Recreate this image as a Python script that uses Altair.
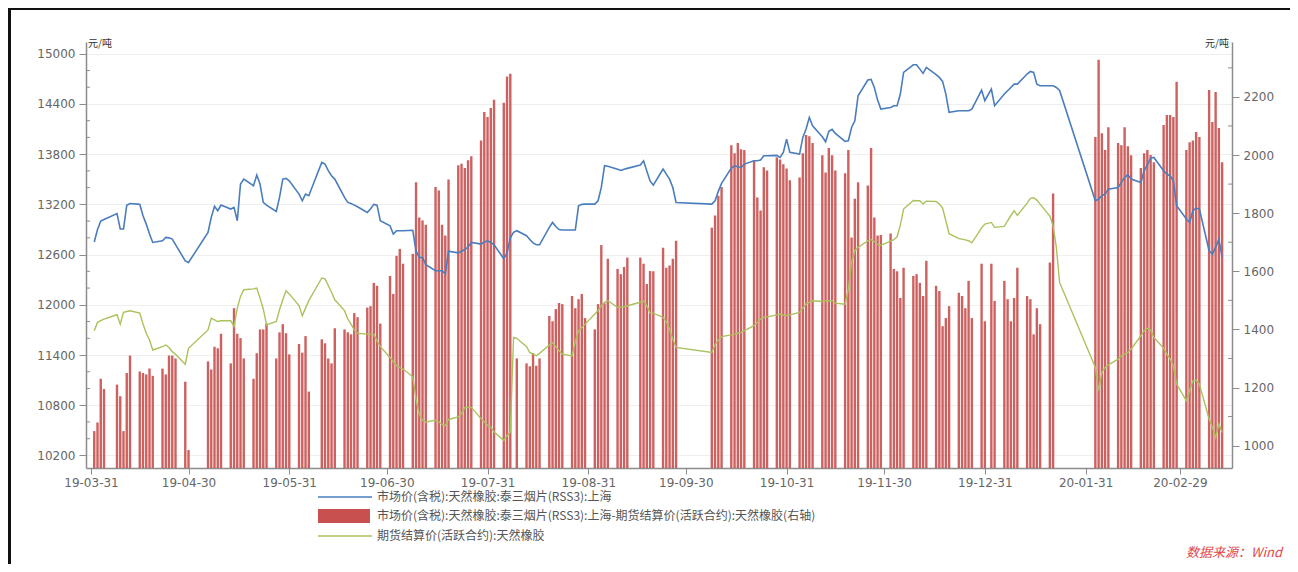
import altair as alt
import pandas as pd

# ---------------- data ----------------
HOLIDAYS = [
    "2019-04-05", "2019-05-01", "2019-05-02", "2019-05-03", "2019-06-07",
    "2019-09-13", "2019-09-30", "2019-10-01", "2019-10-02", "2019-10-03",
    "2019-10-04", "2019-10-07", "2020-01-01", "2020-01-24", "2020-01-27",
    "2020-01-28", "2020-01-29", "2020-01-30", "2020-01-31",
]

rss3_2019_04 = [12750, 12900, 13000, 13020, 13090, 12905, 12905, 13190, 13210, 13200, 13064,
                12964, 12845, 12745, 12765, 12805, 12800, 12785, 12720, 12525, 12505]
rss3_2019_05 = [12865, 13045, 13176, 13124, 13191, 13144, 13164, 13004, 13443, 13502,
                13423, 13550, 13443, 13223, 13191, 13116, 13283, 13502, 13510, 13482]
rss3_2019_06 = [13323, 13243, 13323, 13303, 13701, 13681, 13602, 13542, 13502, 13283,
                13223, 13210, 13191, 13171, 13104, 13144, 13200, 13190, 13004]
rss3_2019_07 = [12944, 12845, 12885, 12885, 12885, 12890, 12640, 12566, 12566, 12480, 12407, 12407,
                12407, 12370, 12640, 12620, 12640, 12660, 12690, 12745, 12725, 12750, 12765]
rss3_2019_08 = [12745, 12717, 12550, 12620, 12800, 12865, 12885, 12825, 12780, 12740, 12717,
                12717, 12925, 12984, 12935, 12900, 12893, 12893, 12893, 13183, 13200, 13203]
rss3_2019_09 = [13203, 13243, 13402, 13661, 13655, 13620, 13605, 13620, 13630, 13670,
                13720, 13600, 13480, 13430, 13622, 13562, 13502, 13402, 13223]
rss3_2019_10 = [13203, 13243, 13355, 13450, 13634, 13661, 13650, 13641, 13681,
                13721, 13721, 13729, 13781, 13781, 13785, 13761, 13821, 13980]
rss3_2019_11 = [13821, 13801, 14000, 14100, 14239, 14139, 14008, 13948, 14072, 14096, 14048,
                13952, 13960, 14119, 14199, 14498, 14685, 14693, 14597, 14446, 14339]
rss3_2019_12 = [14358, 14378, 14378, 14518, 14777, 14868, 14868, 14816, 14765, 14836, 14749,
                14717, 14669, 14518, 14299, 14319, 14319, 14319, 14319, 14338, 14566, 14438]
rss3_2020_01 = [14577, 14378, 14518, 14558, 14597, 14637, 14637, 14757,
                14789, 14777, 14637, 14617, 14617, 14617, 14597, 14560]
rss3_2020_02 = [13243, 13263, 13303, 13323, 13382, 13402, 13462, 13522, 13554, 13502,
                13462, 13602, 13673, 13753, 13761, 13602, 13562, 13542, 13482, 13183]
rss3_2020_03 = [13024, 12984, 13124, 13155, 13144, 12646, 12606, 12685, 12785, 12566]

fut_2019_04 = [11690, 11790, 11810, 11829, 11881, 11769, 11909, 11920, 11929, 11900, 11770,
               11660, 11580, 11460, 11500, 11520, 11490, 11440, 11410, 11290, 11480]
fut_2019_05 = [11700, 11840, 11820, 11800, 11809, 11809, 11740, 11960, 12100, 12180,
               12190, 12200, 12080, 11950, 11760, 11800, 11940, 12060, 12168, 12130]
fut_2019_06 = [11990, 11870, 11960, 12050, 12320, 12310, 12230, 12150, 12060, 11930,
               11830, 11770, 11700, 11660, 11650, 11650, 11650, 11570, 11500]
fut_2019_07 = [11371, 11320, 11272, 11250, 11232, 11140, 10870, 10690, 10620, 10600, 10620, 10600,
               10570, 10555, 10630, 10660, 10700, 10770, 10774, 10774, 10640, 10600, 10560]
fut_2019_08 = [10540, 10480, 10380, 10435, 10480, 11610, 11600, 11500, 11430, 11411, 11391,
               11420, 11520, 11545, 11500, 11450, 11411, 11390, 11560, 11690, 11730, 11769]
fut_2019_09 = [11889, 11929, 11990, 12030, 12048, 11969, 11969, 11980, 11989, 12030,
               12048, 11990, 11900, 11900, 11849, 11797, 11710, 11590, 11491]
fut_2019_10 = [11431, 11523, 11580, 11620, 11640, 11650, 11660, 11670, 11690,
               11750, 11790, 11830, 11849, 11855, 11880, 11889, 11875, 11869]
fut_2019_11 = [11880, 11909, 11960, 12008, 12030, 12048, 12040, 12048, 12048, 12048, 12020,
               12008, 12188, 12506, 12646, 12686, 12765, 12780, 12757, 12720, 12710]
fut_2019_12 = [12761, 12777, 12813, 12952, 13144, 13247, 13243, 13243, 13203, 13239, 13235,
               13203, 13155, 13004, 12850, 12790, 12785, 12775, 12765, 12740, 12920, 12964]
fut_2020_01 = [12984, 12925, 12937, 13004, 13064, 13124, 13068, 13215,
               13271, 13279, 13251, 13203, 13060, 12944, 12686, 12267]
fut_2020_02 = [11252, 10973, 11192, 11252, 11283, 11351, 11391, 11411, 11431, 11471,
               11630, 11690, 11720, 11700, 11610, 11483, 11411, 11351, 11272, 11053]
fut_2020_03 = [10853, 10973, 11092, 11100, 11053, 10634, 10535, 10415, 10575, 10475]

spread_2019_04 = [1050, 1080, 1230, 1195, 1210, 1170, 1050, 1250, 1310, 1255, 1250,
                  1245, 1265, 1240, 1265, 1245, 1310, 1310, 1300, 1220, 985]
spread_2019_05 = [1290, 1262, 1340, 1335, 1385, 1283, 1473, 1385, 1370, 1300,
                  1230, 1318, 1400, 1400, 1420, 1300, 1390, 1418, 1387, 1314]
spread_2019_06 = [1350, 1320, 1377, 1186, 1366, 1352, 1300, 1283, 1404, 1400,
                  1390, 1383, 1456, 1442, 1475, 1480, 1560, 1550, 1420]
spread_2019_07 = [1584, 1522, 1653, 1677, 1626, 1660, 1906, 1785, 1775, 1760, 1890, 1878,
                  1760, 1723, 1916, 1965, 1970, 1955, 1982, 1996, 2050, 2148, 2131]
spread_2019_08 = [2162, 2190, 2180, 2270, 2280, None, 1300, 1283, 1273, 1318, 1275,
                  1300, 1446, 1428, 1470, 1491, 1487, 1515, 1473, 1504, 1522, 1439]
spread_2019_09 = [1400, 1487, 1690, 1490, 1643, 1608, 1590, 1615, 1647, 1647,
                  1626, 1556, 1601, 1600, 1681, 1612, 1620, 1643, 1705]
spread_2019_10 = [1750, 1792, 1860, 1890, 2034, 2006, 2041, 2020, 2017,
                  1982, 1854, 1809, 1958, 1947, 1992, 1985, 1968, 1954]
spread_2019_11 = [1913, 1923, 2006, 2069, 2065, 2041, 1999, 1940, 2024, 1999, 1947,
                  1937, 2017, 1716, 1850, 1906, 1895, 2024, 1785, 1723, 1725]
spread_2019_12 = [1730, 1608, 1600, 1508, 1612, 1584, 1590, 1560, 1515, 1636, 1550,
                  1532, 1411, 1439, 1480, 1526, 1515, 1473, 1567, 1439, 1626, 1428]
spread_2020_01 = [1626, 1498, 1567, 1504, 1428, 1508, 1612, 1515,
                  1504, 1383, 1473, 1418, 1630, 1868, None, None]
spread_2020_02 = [2062, 2328, 2075, 2017, 2096, 2041, 2034, 2096, 2030, 1999,
                  1955, 2006, 2017, 2000, 1975, 2103, 2138, 2138, 2131, 2252]
spread_2020_03 = [2017, 2044, 2050, 2079, 2062, 2224, 2114, 2217, 2093, 1975]

LEFT_TICKS = [10200, 10800, 11400, 12000, 12600, 13200, 13800, 14400, 15000]
LEFT_MINOR = [10400, 10600, 11000, 11200, 11600, 11800, 12200, 12400, 12800,
              13000, 13400, 13600, 14000, 14200, 14600, 14800]
RIGHT_TICKS = [1000, 1200, 1400, 1600, 1800, 2000, 2200]
RIGHT_MINOR = [1100, 1300, 1500, 1700, 1900, 2100, 2300]
MONTH_ENDS = [(2019, 3, 31), (2019, 4, 30), (2019, 5, 31), (2019, 6, 30), (2019, 7, 31),
              (2019, 8, 31), (2019, 9, 30), (2019, 10, 31), (2019, 11, 30), (2019, 12, 31),
              (2020, 1, 31), (2020, 2, 29)]

NAME_RSS3 = "市场价(含税):天然橡胶:泰三烟片(RSS3):上海"
NAME_SPREAD = "市场价(含税):天然橡胶:泰三烟片(RSS3):上海-期货结算价(活跃合约):天然橡胶(右轴)"
NAME_FUT = "期货结算价(活跃合约):天然橡胶"

# ---------------- table ----------------
rss3 = (rss3_2019_04 + rss3_2019_05 + rss3_2019_06 + rss3_2019_07 + rss3_2019_08 + rss3_2019_09
        + rss3_2019_10 + rss3_2019_11 + rss3_2019_12 + rss3_2020_01 + rss3_2020_02 + rss3_2020_03)
fut = (fut_2019_04 + fut_2019_05 + fut_2019_06 + fut_2019_07 + fut_2019_08 + fut_2019_09
       + fut_2019_10 + fut_2019_11 + fut_2019_12 + fut_2020_01 + fut_2020_02 + fut_2020_03)
spread = (spread_2019_04 + spread_2019_05 + spread_2019_06 + spread_2019_07 + spread_2019_08
          + spread_2019_09 + spread_2019_10 + spread_2019_11 + spread_2019_12 + spread_2020_01
          + spread_2020_02 + spread_2020_03)

dates = [d.strftime("%Y-%m-%dT00:00:00") for d in pd.bdate_range("2019-04-01", "2020-03-13")
         if d.strftime("%Y-%m-%d") not in HOLIDAYS]
assert len(dates) == len(rss3) == len(fut) == len(spread), (len(dates), len(rss3), len(fut), len(spread))

df = pd.DataFrame({"date": dates, "rss3": rss3, "fut": fut, "spread": spread})

# ---------------- style ----------------
W, H = 1146, 426
FONT = "DejaVu Sans"
CJK = "Noto Sans CJK SC"
AX_COL = "#8c8c8c"
LAB_COL = "#666666"
BLUE = "#4a7dbd"
GREEN = "#a9c25c"
RED = "#c8504f"
L_DOM = [10050, 15140]
R_DOM = [923, 2389]

x_scale = alt.Scale(domain=[alt.DateTime(year=2019, month=3, date=31),
                            alt.DateTime(year=2020, month=3, date=14, hours=12)])
x_axis = alt.Axis(values=[alt.DateTime(year=y, month=m, date=d) for (y, m, d) in MONTH_ENDS],
                  format="%y-%m-%d", labelFont=FONT, labelFontSize=12, labelColor=LAB_COL,
                  tickSize=6, tickColor=AX_COL, domainColor=AX_COL, domainWidth=1.5,
                  grid=False, title=None, labelPadding=3, labelFlush=False)
x_enc = alt.X("date:T", scale=x_scale, axis=x_axis)

bars = alt.Chart(df).mark_bar(size=2.4, color=RED, opacity=0.9).encode(
    x=x_enc,
    y=alt.Y("spread:Q", scale=alt.Scale(domain=R_DOM, zero=False, nice=False),
            axis=alt.Axis(orient="right", values=RIGHT_TICKS, format="d", labelFont=FONT,
                          labelFontSize=12, labelColor=LAB_COL, tickSize=7, tickColor=AX_COL,
                          domainColor=AX_COL, domainWidth=1.5, grid=False, title=None,
                          labelPadding=4)),
    y2=alt.datum(R_DOM[0]),
).transform_filter("isValid(datum.spread)")

right_minor = alt.Chart(alt.Data(values=[{"v": v} for v in RIGHT_MINOR])).mark_rule(
    color=AX_COL, strokeWidth=1).encode(
    y=alt.Y("v:Q", scale=alt.Scale(domain=R_DOM, zero=False, nice=False)),
    x=alt.value(W - 4), x2=alt.value(W))

right_layer = alt.layer(bars, right_minor)

left_y_scale = alt.Scale(domain=L_DOM, zero=False, nice=False)
left_axis = alt.Axis(orient="left", values=LEFT_TICKS, format="d", labelFont=FONT,
                     labelFontSize=12, labelColor=LAB_COL, tickSize=7, tickColor=AX_COL,
                     domainColor=AX_COL, domainWidth=1.5, grid=True, gridColor="#efefef",
                     gridWidth=1, title=None, labelPadding=4)

blue_line = alt.Chart(df).mark_line(color=BLUE, strokeWidth=1.6).encode(
    x=x_enc, y=alt.Y("rss3:Q", scale=left_y_scale, axis=left_axis))
green_line = alt.Chart(df).mark_line(color=GREEN, strokeWidth=1.4).encode(
    x=x_enc, y=alt.Y("fut:Q", scale=left_y_scale, axis=left_axis))
left_minor = alt.Chart(alt.Data(values=[{"v": v} for v in LEFT_MINOR])).mark_rule(
    color=AX_COL, strokeWidth=1).encode(
    y=alt.Y("v:Q", scale=left_y_scale, axis=left_axis),
    x=alt.value(0), x2=alt.value(4))

left_layer = alt.layer(green_line, blue_line, left_minor)

# ---------------- legend & annotations (drawn as text/marks) ----------------
one = alt.Data(values=[{"k": 1}])
LX1, LX2, TX = 232, 286, 291
rows_y = [455, 474, 494]

leg_blue = alt.Chart(one).mark_rule(color=BLUE, strokeWidth=1.6).encode(
    x=alt.value(LX1), x2=alt.value(LX2), y=alt.value(rows_y[0]))
leg_red = alt.Chart(one).mark_rect(color=RED).encode(
    x=alt.value(LX1), x2=alt.value(LX2 - 2), y=alt.value(rows_y[1] - 7), y2=alt.value(rows_y[1] + 7))
leg_green = alt.Chart(one).mark_rule(color=GREEN, strokeWidth=1.4).encode(
    x=alt.value(LX1), x2=alt.value(LX2), y=alt.value(rows_y[2]))

def label(text, x, y, **kw):
    return alt.Chart(one).mark_text(**kw).encode(
        x=alt.value(x), y=alt.value(y), text=alt.value(text))

leg_texts = [
    label(NAME_RSS3, TX, rows_y[0], align="left", baseline="middle", font=CJK, fontSize=12, color="#555555"),
    label(NAME_SPREAD, TX, rows_y[1], align="left", baseline="middle", font=CJK, fontSize=12, color="#555555"),
    label(NAME_FUT, TX, rows_y[2], align="left", baseline="middle", font=CJK, fontSize=12, color="#555555"),
]
unit_left = label("元/吨", 2, 5, align="left", baseline="alphabetic", font=CJK, fontSize=10, color="#333333")
unit_right = label("元/吨", W - 3, 5, align="right", baseline="alphabetic", font=CJK, fontSize=10, color="#333333")
source = label("数据来源：Wind", 1196, 515, align="right", baseline="alphabetic", font=CJK,
               fontSize=13, fontStyle="italic", color="#e04848")

# outer frame of the picture (left and top edges)
frame_left = alt.Chart(one).mark_rule(color="#111111", strokeWidth=3).encode(
    x=alt.value(-76.5), y=alt.value(-34), y2=alt.value(522))
frame_top = alt.Chart(one).mark_rule(color="#111111", strokeWidth=2).encode(
    x=alt.value(-78), x2=alt.value(1204), y=alt.value(-33))

deco = alt.layer(leg_blue, leg_red, leg_green, *leg_texts, unit_left, unit_right, source,
                 frame_left, frame_top)

chart = alt.layer(right_layer, left_layer, deco).resolve_scale(y="independent").properties(
    width=W, height=H,
    padding={"left": 78, "top": 34, "right": 58, "bottom": 96},
    autosize=alt.AutoSizeParams(type="none"),
    background="white",
).configure_view(stroke=None)

chart.save("out.html", embed_options={"renderer": "svg", "actions": False})
